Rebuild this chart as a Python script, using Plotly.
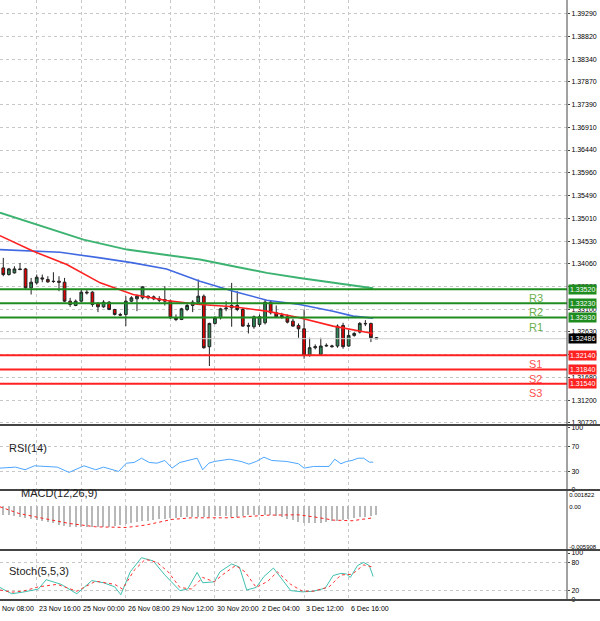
import plotly.graph_objects as go

# --- price candles (index = bar number) ---
opens = [1.33969, 1.33830, 1.33865, 1.33948, 1.33948, 1.33551, 1.33656, 1.33760, 1.33726, 1.33691,
         1.33691, 1.33670, 1.33272, 1.33182, 1.33272, 1.33461, 1.33461, 1.33224, 1.33154, 1.33252,
         1.33098, 1.32994, 1.32994, 1.33272, 1.33321, 1.33342, 1.33377, 1.33363, 1.33321, 1.33307,
         1.33272, 1.32924, 1.32889, 1.33098, 1.33182, 1.33252, 1.33377, 1.32318, 1.32806, 1.32924,
         1.33112, 1.33182, 1.33182, 1.33098, 1.32764, 1.32736, 1.32785, 1.32820, 1.33252, 1.33029,
         1.32973, 1.32945, 1.32854, 1.32764, 1.32694, 1.32136, 1.32297, 1.32157, 1.32332, 1.32318,
         1.32332, 1.32764, 1.32332, 1.32555, 1.32624, 1.32806, 1.32806, 1.32506]
highs = [1.34179, 1.33969, 1.34004, 1.34074, 1.33969, 1.33760, 1.33830, 1.33830, 1.33795, 1.33879,
         1.33795, 1.33760, 1.33342, 1.33307, 1.33516, 1.33503, 1.33482, 1.33252, 1.33293, 1.33272,
         1.33112, 1.33029, 1.33377, 1.33377, 1.33412, 1.33586, 1.33391, 1.33391, 1.33377, 1.33586,
         1.33307, 1.32994, 1.33133, 1.33224, 1.33293, 1.33726, 1.33412, 1.32820, 1.32959, 1.33133,
         1.33272, 1.33656, 1.33482, 1.33133, 1.32820, 1.32973, 1.32994, 1.33307, 1.33293, 1.33182,
         1.33029, 1.32994, 1.32903, 1.32806, 1.33098, 1.32506, 1.32366, 1.32506, 1.32387, 1.32359,
         1.32785, 1.32820, 1.32680, 1.32624, 1.32833, 1.32875, 1.32820, 1.32520]
lows = [1.33795, 1.33809, 1.33851, 1.33921, 1.33530, 1.33412, 1.33621, 1.33670, 1.33656, 1.33656,
        1.33482, 1.33252, 1.33154, 1.33168, 1.33252, 1.33412, 1.33154, 1.33043, 1.33133, 1.33084,
        1.32973, 1.32959, 1.32750, 1.33252, 1.33063, 1.33307, 1.33307, 1.33293, 1.33252, 1.33182,
        1.32903, 1.32854, 1.32875, 1.33063, 1.33043, 1.33238, 1.32276, 1.31913, 1.32785, 1.32889,
        1.33063, 1.32736, 1.33063, 1.32736, 1.32596, 1.32694, 1.32736, 1.32785, 1.32994, 1.32924,
        1.32903, 1.32806, 1.32736, 1.32506, 1.32067, 1.32109, 1.32262, 1.32136, 1.32318, 1.32297,
        1.32297, 1.32276, 1.32318, 1.32527, 1.32596, 1.32750, 1.32415, 1.32485]
closes = [1.33830, 1.33948, 1.33948, 1.33935, 1.33551, 1.33670, 1.33774, 1.33739, 1.33677, 1.33684,
          1.33670, 1.33272, 1.33203, 1.33272, 1.33461, 1.33447, 1.33203, 1.33154, 1.33252, 1.33098,
          1.32994, 1.32980, 1.33272, 1.33342, 1.33377, 1.33572, 1.33342, 1.33321, 1.33293, 1.33272,
          1.32924, 1.32889, 1.33112, 1.33182, 1.33252, 1.33377, 1.32297, 1.32806, 1.32924, 1.33112,
          1.33126, 1.33133, 1.33098, 1.32750, 1.32750, 1.32945, 1.32945, 1.33252, 1.33029, 1.32945,
          1.32945, 1.32833, 1.32750, 1.32694, 1.32136, 1.32297, 1.32318, 1.32332, 1.32345, 1.32332,
          1.32750, 1.32318, 1.32555, 1.32596, 1.32806, 1.32799, 1.32506, 1.32486]
bars = list(range(len(closes)))

# --- moving averages (bar position, price) ---
ma_red_x = [-0.6, 5.4, 11.4, 17.4, 23.3, 29.3, 35.3, 41.3, 47.3, 53.2, 59.2, 62.2, 66.4]
ma_red_y = [1.34646, 1.34318, 1.34039, 1.33656, 1.33412, 1.33286, 1.33203, 1.33154, 1.33063, 1.32924, 1.32750, 1.32680, 1.32596]
ma_blue_x = [-0.6, 10.2, 17.4, 23.3, 29.3, 35.3, 41.3, 47.3, 53.2, 59.2, 62.8, 66.4]
ma_blue_y = [1.34353, 1.34297, 1.34179, 1.34074, 1.33948, 1.33691, 1.33482, 1.33293, 1.33203, 1.33063, 1.32959, 1.32917]
ma_green_x = [-0.6, 9.0, 14.4, 22.2, 29.3, 35.3, 41.3, 47.3, 53.2, 59.2, 66.4]
ma_green_y = [1.35126, 1.34771, 1.34562, 1.34353, 1.34248, 1.34144, 1.34004, 1.33865, 1.33760, 1.33656, 1.33544]

# --- pivot levels ---
level_names = ["R3", "R2", "R1", "S1", "S2", "S3"]
level_values = [1.33520, 1.33230, 1.32930, 1.32140, 1.31840, 1.31540]
last_price = 1.32486

price_ticks = [1.39290, 1.38820, 1.38340, 1.37870, 1.37390, 1.36910, 1.36440, 1.35960, 1.35490,
               1.35010, 1.34530, 1.34060, 1.33580, 1.33100, 1.32630, 1.32150, 1.31680, 1.31200, 1.30720]

# --- RSI(14) ---
rsi_x = [-0.6, 2.2, 3.9, 5.6, 9.7, 11.8, 14.5, 16.6, 18.0, 20.7, 22.1, 23.5, 24.8, 26.2, 27.6, 29.0, 30.3,
         31.7, 34.8, 35.8, 36.9, 37.9, 40.6, 42.7, 44.1, 45.4, 46.8, 48.2, 50.9, 53.0, 54.0, 55.7, 58.5,
         59.5, 60.6, 61.6, 62.6, 63.7, 64.7, 65.7, 66.4]
rsi_y = [35.3, 36.9, 32.7, 39.0, 36.9, 28.4, 39.0, 32.7, 36.9, 30.0, 43.3, 44.4, 51.3, 44.4, 43.3, 47.6, 35.3,
         44.4, 51.3, 32.7, 43.3, 46.0, 49.7, 46.0, 41.7, 46.0, 52.9, 47.6, 46.0, 42.3, 35.3, 38.0, 38.0,
         49.7, 42.3, 46.0, 47.6, 51.3, 51.3, 44.9, 44.9]

# --- MACD(12,26,9) ---
macd_hist = [-0.00118, -0.00122, -0.00131, -0.00149, -0.00163, -0.00176, -0.00185, -0.00194, -0.00212, -0.00231,
             -0.00249, -0.00262, -0.00276, -0.00285, -0.00285, -0.00285, -0.00285, -0.00280, -0.00276, -0.00276,
             -0.00267, -0.00253, -0.00240, -0.00231, -0.00217, -0.00203, -0.00194, -0.00185, -0.00176, -0.00167,
             -0.00158, -0.00154, -0.00149, -0.00149, -0.00149, -0.00149, -0.00145, -0.00140, -0.00136, -0.00131,
             -0.00136, -0.00140, -0.00140, -0.00131, -0.00122, -0.00118, -0.00118, -0.00118, -0.00122, -0.00131,
             -0.00149, -0.00167, -0.00185, -0.00208, -0.00221, -0.00231, -0.00231, -0.00221, -0.00212, -0.00203,
             -0.00194, -0.00185, -0.00176, -0.00163, -0.00149, -0.00140, -0.00131, -0.00118]
macd_sig_x = [-0.6, 2.8, 6.3, 11.8, 16.6, 22.1, 25.5, 30.3, 33.8, 40.6, 47.5, 53.0, 56.4, 59.2, 62.6, 66.4]
macd_sig_y = [-0.00005, -0.00095, -0.00149, -0.00230, -0.00276, -0.00285, -0.00253, -0.00176, -0.00154, -0.00154,
              -0.00118, -0.00113, -0.00149, -0.00185, -0.00194, -0.00154]

# --- Stoch(5,5,3) ---
st_x = [-0.6, 1.5, 3.5, 6.3, 7.7, 10.4, 13.2, 15.9, 18.0, 20.0, 21.1, 22.8, 24.8, 26.9, 29.0, 31.7, 33.1, 34.8,
        35.8, 37.9, 38.9, 41.0, 42.4, 43.7, 45.4, 46.8, 48.5, 50.3, 51.6, 53.7, 55.7, 57.8, 59.2, 60.6, 61.6,
        62.3, 63.6, 64.7, 65.7, 66.4]
st_main = [26.7, 13.3, 16.7, 23.3, 43.3, 33.3, 13.3, 41.3, 36.7, 28.0, 11.3, 60.0, 90.0, 83.3, 53.3, 20.0, 23.3,
           58.7, 36.7, 38.7, 60.0, 76.7, 70.0, 21.3, 26.7, 50.0, 68.0, 40.0, 20.0, 17.3, 18.7, 25.3, 52.0, 56.7,
           55.3, 48.0, 73.3, 80.0, 73.3, 50.0]
st_sig_x = [-0.6, 1.5, 3.5, 6.3, 9.7, 13.2, 16.6, 20.0, 21.4, 23.5, 25.5, 27.6, 29.6, 31.7, 33.8, 35.8, 37.9, 39.3,
            41.7, 43.4, 45.4, 47.5, 49.2, 51.6, 53.7, 55.7, 58.5, 60.6, 62.6, 64.7, 66.4]
st_sig = [21.3, 16.7, 18.7, 28.0, 33.3, 18.7, 40.0, 33.3, 23.3, 63.3, 86.7, 80.0, 60.0, 26.7, 23.3, 48.0, 38.7, 53.3,
          73.3, 60.0, 26.7, 40.0, 60.0, 33.3, 18.7, 18.7, 28.0, 53.3, 54.7, 74.7, 70.0]

time_ticks = [-0.59, 6, 14, 22, 30, 38, 46, 54, 62]
time_labels = ["Nov 08:00", "23 Nov 16:00", "25 Nov 00:00", "26 Nov 08:00", "29 Nov 12:00",
               "30 Nov 20:00", "2 Dec 04:00", "3 Dec 12:00", "6 Dec 16:00"]

FONT = "Liberation Sans, Arial, sans-serif"
GRID = "#c8c8c8"

fig = go.Figure()

fig.add_trace(go.Scatter(x=ma_green_x, y=ma_green_y, mode="lines", line=dict(color="#3cb371", width=2)))
fig.add_trace(go.Scatter(x=ma_blue_x, y=ma_blue_y, mode="lines", line=dict(color="#4169e1", width=1.6)))
fig.add_trace(go.Scatter(x=ma_red_x, y=ma_red_y, mode="lines", line=dict(color="#ff2020", width=1.6)))
fig.add_trace(go.Candlestick(
    x=bars, open=opens, high=highs, low=lows, close=closes,
    increasing=dict(line=dict(color="#222", width=1), fillcolor="#2e8b57"),
    decreasing=dict(line=dict(color="#222", width=1), fillcolor="#e00000"),
    whiskerwidth=0, showlegend=False))

fig.add_trace(go.Scatter(x=rsi_x, y=rsi_y, mode="lines", line=dict(color="#4da6ff", width=1), yaxis="y2"))
fig.add_trace(go.Bar(x=bars, y=macd_hist, marker=dict(color="#b8b8b8", line=dict(width=0)), width=0.25, yaxis="y3"))
fig.add_trace(go.Scatter(x=macd_sig_x, y=macd_sig_y, mode="lines", line=dict(color="#ff2020", width=1, dash="dot"), yaxis="y3"))
fig.add_trace(go.Scatter(x=st_x, y=st_main, mode="lines", line=dict(color="#40c0b0", width=1), yaxis="y4"))
fig.add_trace(go.Scatter(x=st_sig_x, y=st_sig, mode="lines", line=dict(color="#ff3030", width=1, dash="dot"), yaxis="y4"))

shapes = []
annotations = []
for name, v in zip(level_names, level_values):
    col = "#1e8c1e" if name.startswith("R") else "#ff2020"
    txt = "#6ab04c" if name.startswith("R") else "#ff5050"
    shapes.append(dict(type="line", xref="paper", x0=0, x1=1, yref="y", y0=v, y1=v, line=dict(color=col, width=2)))
    annotations.append(dict(x=0.945, xref="paper", y=v, yref="y", text=name, showarrow=False,
                            xanchor="center", yanchor="top", yshift=-1, font=dict(color=txt, size=11, family=FONT)))
    annotations.append(dict(x=1, xref="paper", y=v, yref="y", text="%.5f" % v, showarrow=False, xanchor="left",
                            xshift=1, bgcolor=col, font=dict(color="white", size=7, family=FONT), borderpad=1))
shapes.append(dict(type="line", xref="paper", x0=0, x1=1, yref="y", y0=last_price, y1=last_price,
                   line=dict(color="#d0d0d0", width=1)))
annotations.append(dict(x=1, xref="paper", y=last_price, yref="y", text="%.5f" % last_price, showarrow=False,
                        xanchor="left", xshift=1, bgcolor="black", font=dict(color="white", size=7, family=FONT), borderpad=1))

for y0 in [0.2917, 0.1833, 0.0833, 0.0]:
    shapes.append(dict(type="line", xref="paper", x0=0, x1=1.06, yref="paper", y0=y0, y1=y0,
                       line=dict(color="#444", width=2)))
shapes.append(dict(type="line", xref="paper", x0=1, x1=1, yref="paper", y0=0, y1=1, line=dict(color="#444", width=1)))

for t, lab in zip(time_ticks, time_labels):
    annotations.append(dict(x=t, xref="x", y=0, yref="paper", text=lab, showarrow=False, xanchor="left",
                            yanchor="top", yshift=-3, font=dict(size=7, family=FONT, color="black")))
for txt, y in [("RSI(14)", 0.24), ("MACD(12,26,9)", 0.165), ("Stoch(5,5,3)", 0.035)]:
    annotations.append(dict(x=0.012 if txt != "MACD(12,26,9)" else 0.033, xref="paper", y=y, yref="paper", text=txt,
                            showarrow=False, xanchor="left", font=dict(size=11, family=FONT, color="#222")))

ax = dict(side="right", showline=False, ticks="outside", ticklen=2, tickcolor="#444", automargin=False,
          tickfont=dict(size=7, family=FONT, color="black"), gridcolor=GRID, griddash="dot", zeroline=False,
          anchor="x", fixedrange=True)
ax_macd = dict(ax, tickfont=dict(size=6, family=FONT, color="black"), ticklen=0, showgrid=False)
ax_macd.pop("gridcolor")

fig.update_layout(
    width=600, height=621, margin=dict(l=0, r=33, t=0, b=21, autoexpand=False),
    paper_bgcolor="white", plot_bgcolor="white", showlegend=False, bargap=0,
    xaxis=dict(range=[-0.59, 101.2], tickvals=time_ticks, showticklabels=False, ticks="", automargin=False,
               gridcolor=GRID, griddash="dot", zeroline=False, rangeslider=dict(visible=False)),
    yaxis=dict(domain=[0.2917, 1], range=[1.30678, 1.39583], tickvals=price_ticks,
               ticktext=["%.5f" % v for v in price_ticks], **ax),
    yaxis2=dict(domain=[0.1833, 0.2867], range=[0, 100], tickvals=[0, 30, 70, 100], **ax),
    yaxis3=dict(domain=[0.0833, 0.1783], range=[-0.005908, 0.001822], tickvals=[-0.0055, 0, 0.0015],
                ticktext=["-0.005908", "0.00", "0.001822"], **ax_macd),
    yaxis4=dict(domain=[0, 0.0783], range=[0, 100], tickvals=[0, 20, 80, 100], **ax),
    shapes=shapes, annotations=annotations,
)

fig.write_html("out.html", config={"displayModeBar": False},
               post_script="document.body.style.margin='0';document.body.style.overflow='hidden';")
